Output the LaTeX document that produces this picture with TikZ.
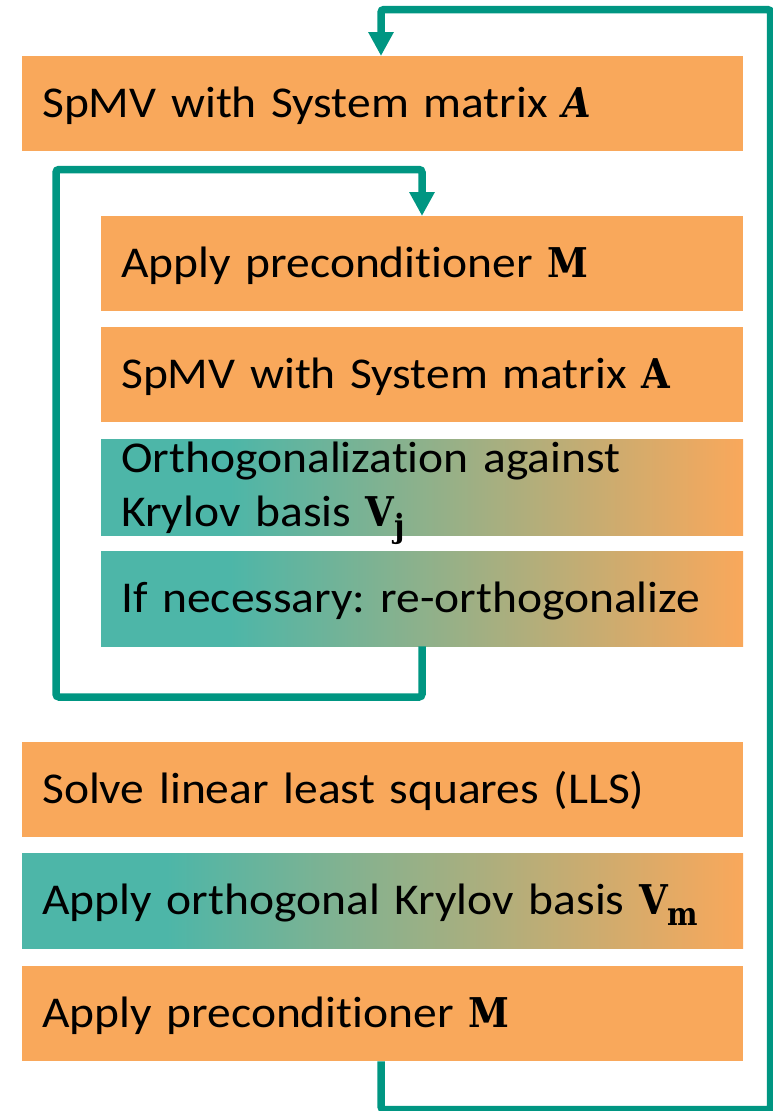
\documentclass[tikz,border=0pt]{standalone}
\usepackage{fontspec}
\setmainfont{Carlito}[FakeStretch=1.08, RawFeature={-liga;-clig;-calt;-dlig}, WordSpace=0.95]
\newfontfamily\symserifbf{DejaVuSerifCondensed-Bold.ttf}
\newfontfamily\symserifbfit{DejaVuSerifCondensed-BoldItalic.ttf}
\usetikzlibrary{arrows.meta}

\definecolor{boxorange}{RGB}{249,168,91}
\definecolor{boxteal}{RGB}{77,182,168}
\definecolor{looplinecol}{RGB}{0,150,130}

% bold serif matrix symbols, with an optional bold subscript
\newcommand{\matsym}[1]{{\symserifbf\fontsize{41}{41}\selectfont #1}}
\newcommand{\matsub}[2]{{\symserifbf\fontsize{41}{41}\selectfont #1\raisebox{-11pt}{\fontsize{32}{32}\selectfont #2}}}

% teal on the left fading into orange on the right
\pgfdeclarehorizontalshading{tealorange}{100bp}{%
  color(0bp)=(boxteal); color(35bp)=(boxteal);
  color(75bp)=(boxorange); color(100bp)=(boxorange)}

\tikzset{
  stagebox/.style={anchor=north west, draw=none, inner xsep=20pt, inner ysep=0pt,
    align=left, text height=61.5pt, text depth=33.5pt,
    font=\fontsize{44}{54}\selectfont\frenchspacing},
  widebox/.style={stagebox, text width=681pt},
  narrowbox/.style={stagebox, text width=602pt},
  plain/.style={fill=boxorange},
  blend/.style={shade, shading=tealorange},
  loopline/.style={draw=looplinecol, line width=7.5pt, rounded corners=3pt,
    -{Triangle[length=24pt,width=24pt]}}
}

\begin{document}
\begin{tikzpicture}[x=1pt,y=-1pt]
\useasboundingbox (0,0) rectangle (773,1111);

% outer stages
\node[widebox, plain] (spmvA) at (22,56) {SpMV with System matrix {\symserifbfit\fontsize{41}{41}\selectfont A}};

% inner (Arnoldi) stages
\node[narrowbox, plain] (precM) at (101,216) {Apply preconditioner \matsym{M}};
\node[narrowbox, plain] (spmvB) at (101,327) {SpMV with System matrix \matsym{A}};
\node[narrowbox, blend, text height=33pt, text depth=63pt] (ortho) at (101,439)
  {Orthogonalization against\\Krylov basis \matsub{V}{j}};
\node[narrowbox, blend] (reortho) at (101,551) {If necessary: re-orthogonalize};

% final stages
\node[widebox, plain] (lls) at (22,742) {Solve linear least squares (LLS)};
\node[widebox, blend] (applyV) at (22,853) {Apply orthogonal Krylov basis \matsub{V}{m}};
\node[widebox, plain] (precOut) at (22,966) {Apply preconditioner \matsym{M}};

% loop corners
\coordinate (outerBR) at (381,1109.5);
\coordinate (outerTR) at (770.5,9.5);
\coordinate (innerBL) at (422,697);
\coordinate (innerTL) at (56,169.5);

% restart loop
\draw[loopline] (outerBR |- precOut.south) -- (outerBR) -| (outerTR) -| (outerBR |- spmvA.north);
% inner iteration loop
\draw[loopline] (innerBL |- reortho.south) -- (innerBL) -| (innerTL) -| (innerBL |- precM.north);
\end{tikzpicture}
\end{document}
